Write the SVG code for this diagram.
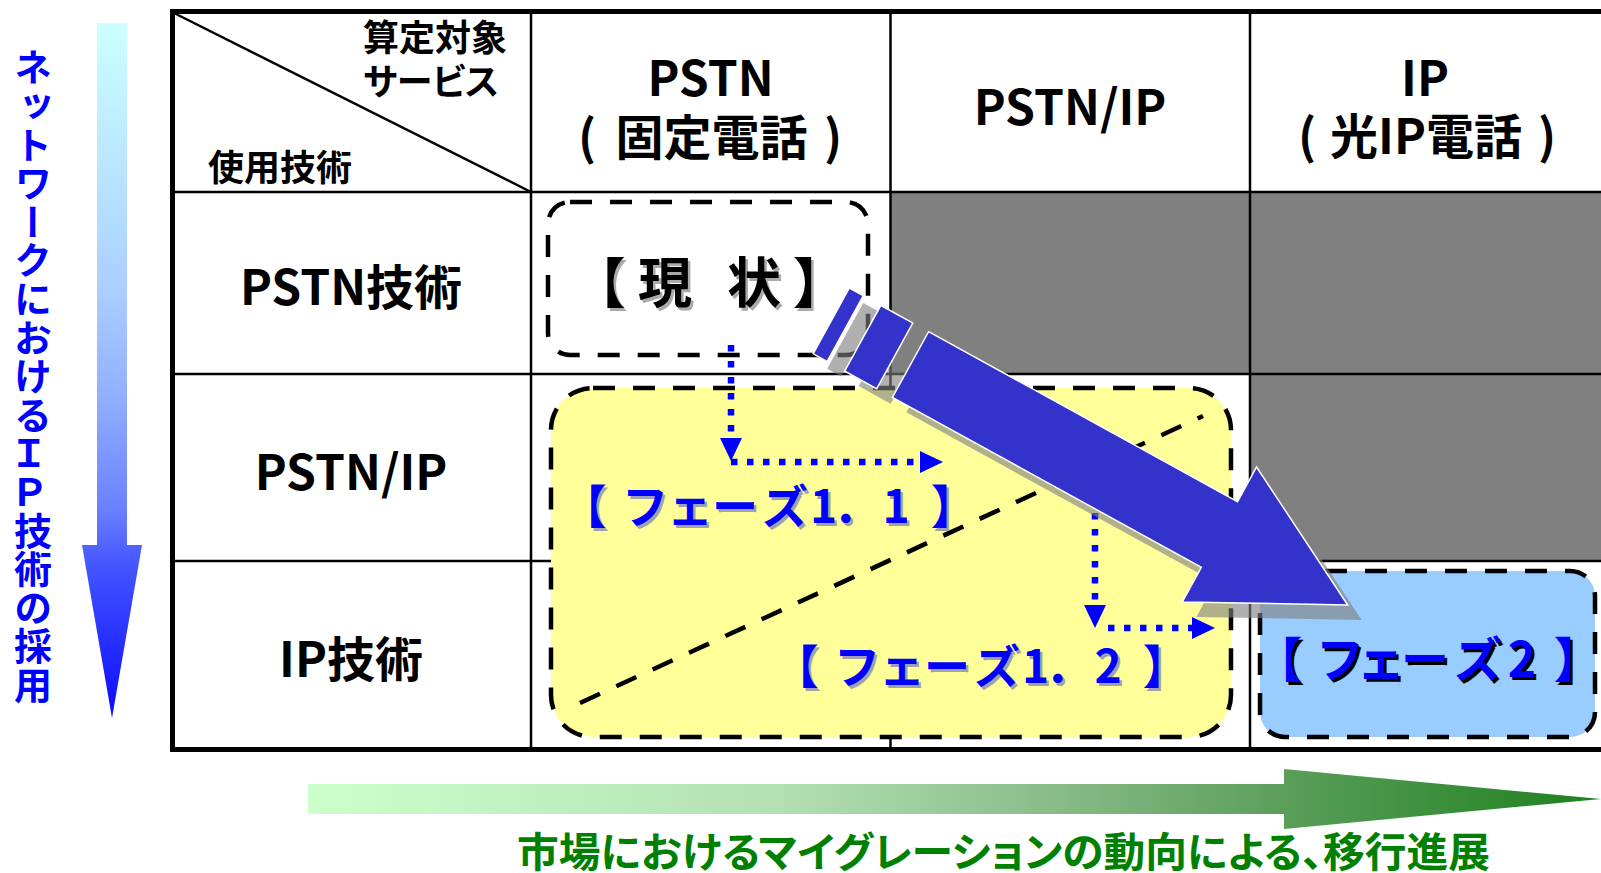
<svg xmlns="http://www.w3.org/2000/svg" width="1601" height="873" viewBox="0 0 1601 873">
<style>
.t { font-family: "Noto Sans CJK JP", "Liberation Sans", sans-serif; font-weight: 700; font-feature-settings: "palt"; }
.thin { stroke: #000; stroke-width: 2.5; fill: none; }
.thick { stroke: #000; stroke-width: 5; fill: none; }
.dash { stroke: #000; stroke-width: 4.5; stroke-dasharray: 22 18; }
.dot { stroke: #0000ff; stroke-width: 6.5; stroke-dasharray: 6.5 9.5; fill: none; marker-end: url(#ah); }
.gray { fill: #808080; }
</style>
<defs>
<linearGradient id="gV" gradientUnits="userSpaceOnUse" x1="0" y1="23" x2="0" y2="718">
<stop offset="0" stop-color="#ccffff"/>
<stop offset="0.38" stop-color="#aad0ff"/>
<stop offset="0.54" stop-color="#8fb0ff"/>
<stop offset="0.7" stop-color="#6a80ff"/>
<stop offset="0.78" stop-color="#4455ff"/>
<stop offset="1" stop-color="#0a0aff"/>
</linearGradient>
<linearGradient id="gH" gradientUnits="userSpaceOnUse" x1="308" y1="0" x2="1601" y2="0">
<stop offset="0" stop-color="#ccffcc"/>
<stop offset="0.365" stop-color="#b3e0b3"/>
<stop offset="0.55" stop-color="#8fc08f"/>
<stop offset="0.755" stop-color="#5a9e5a"/>
<stop offset="1" stop-color="#1e801e"/>
</linearGradient>
<marker id="ah" markerUnits="userSpaceOnUse" markerWidth="24" markerHeight="24" viewBox="0 0 24 24" refX="0" refY="12" orient="auto">
<path d="M0,1 L23,12 L0,23 Z" fill="#0000ff"/>
</marker>
<g id="bigArrowShape">
<rect x="-90.5" y="-37.5" width="16" height="75"/>
<rect x="-54.5" y="-37.5" width="36.5" height="75"/>
<polygon points="0,-37.5 352.6,-37.5 352.6,-77 499,0 352.6,77 352.6,37.5 0,37.5"/>
</g>
<text id="tGenjo" class="t" x="611 665 754 807.5" y="303" font-size="54" text-anchor="middle">【現状】</text>
<text id="tP11" class="t" x="594 645 690 735 785 823.5 851.5 896 943.5" y="523" font-size="46" text-anchor="middle">【フェーズ1．1】</text>
<text id="tP12" class="t" x="806 857 902 947 997 1035.5 1063.5 1108 1155.5" y="683" font-size="46" text-anchor="middle">【フェーズ1．2】</text>
<text id="tP2" class="t" x="1289 1340 1381 1425 1478 1522 1567" y="677" font-size="48" text-anchor="middle">【フェーズ2】</text>
</defs>

<rect width="1601" height="873" fill="#ffffff"/>

<g id="table">
<rect class="gray" x="890" y="192" width="360" height="182"/>
<rect class="gray" x="1250" y="192" width="351" height="182"/>
<rect class="gray" x="1250" y="374" width="351" height="187"/>
<line class="thin" x1="172" y1="192" x2="1601" y2="192"/>
<line class="thin" x1="172" y1="374" x2="1601" y2="374"/>
<line class="thin" x1="172" y1="561" x2="1601" y2="561"/>
<line class="thin" x1="531" y1="11" x2="531" y2="749"/>
<line class="thin" x1="890.5" y1="11" x2="890.5" y2="749"/>
<line class="thin" x1="1250" y1="11" x2="1250" y2="749"/>
<line class="thin" x1="174" y1="13" x2="531" y2="192"/>
<polyline class="thick" points="1601,11.5 172.5,11.5 172.5,749.5 1601,749.5"/>
</g>

<g id="headers" class="t" fill="#000">
<text x="363" y="50.5" font-size="36">算定対象</text>
<text x="363" y="95" font-size="36">サービス</text>
<text x="208" y="180.5" font-size="36">使用技術</text>
<text x="710.5" y="96" font-size="48" text-anchor="middle">PSTN</text>
<text x="587" y="154.5" font-size="48" text-anchor="middle">(</text>
<text x="711.5" y="154.5" font-size="48" text-anchor="middle">固定電話</text>
<text x="833" y="154.5" font-size="48" text-anchor="middle">)</text>
<text x="1070" y="125" font-size="48" text-anchor="middle">PSTN/IP</text>
<text x="1425" y="96" font-size="48" text-anchor="middle">IP</text>
<text x="1307" y="154" font-size="48" text-anchor="middle">(</text>
<text x="1426" y="154" font-size="48" text-anchor="middle">光IP電話</text>
<text x="1547" y="154" font-size="48" text-anchor="middle">)</text>
<text x="351" y="305" font-size="48" text-anchor="middle">PSTN技術</text>
<text x="351" y="490" font-size="48" text-anchor="middle">PSTN/IP</text>
<text x="351" y="677" font-size="48" text-anchor="middle">IP技術</text>
</g>

<g id="axisV">
<path d="M97,23 H127 V545 H142 L112,718 L82,545 H97 Z" fill="url(#gV)"/>
<text class="t" x="33" y="48" font-size="38" fill="#0000ff" style="writing-mode:vertical-rl;text-orientation:upright;letter-spacing:0.6px">ネットワークにおけるＩＰ技術の採用</text>
</g>

<g id="axisH">
<path d="M308,784 H1284 V769 L1601,799 L1284,829 V814 H308 Z" fill="url(#gH)"/>
<text class="t" x="517" y="867" font-size="41" fill="#008000" textLength="973" lengthAdjust="spacingAndGlyphs">市場におけるマイグレーションの動向による、移行進展</text>
</g>

<g id="node-genjo">
<rect class="dash" x="548" y="202" width="320" height="153" rx="22" fill="#ffffff"/>
<use href="#tGenjo" x="2.5" y="2.5" fill="#aaaaaa"/>
<use href="#tGenjo" fill="#000000"/>
</g>

<g id="node-phase1">
<rect class="dash" x="551" y="388" width="680" height="349" rx="42" fill="#ffff99"/>
<line class="dash" x1="580" y1="703" x2="1203" y2="416"/>
<use href="#tP11" x="2.5" y="2.5" fill="#a0a0b0"/>
<use href="#tP11" fill="#0000ff"/>
<use href="#tP12" x="2.5" y="2.5" fill="#a0a0b0"/>
<use href="#tP12" fill="#0000ff"/>
</g>

<g id="node-phase2">
<rect class="dash" x="1260" y="571" width="335" height="166" rx="25" fill="#99ccff"/>
<use href="#tP2" x="2.5" y="2.5" fill="#000000"/>
<use href="#tP2" fill="#0000ff"/>
</g>

<g id="connectors">
<path class="dot" d="M731,345 V438"/>
<path class="dot" d="M731,462 H920"/>
<path class="dot" d="M1095,513 V605"/>
<path class="dot" d="M1108,628 H1192"/>
<g id="bigArrow">
<use href="#bigArrowShape" transform="translate(924.5,379.5) rotate(28.82)" fill="#808080" fill-opacity="0.62"/>
<use href="#bigArrowShape" transform="translate(910.5,364.5) rotate(28.82)" fill="#3333cc" stroke="#ffffff" stroke-width="1.5"/>
</g>
</g>
</svg>
